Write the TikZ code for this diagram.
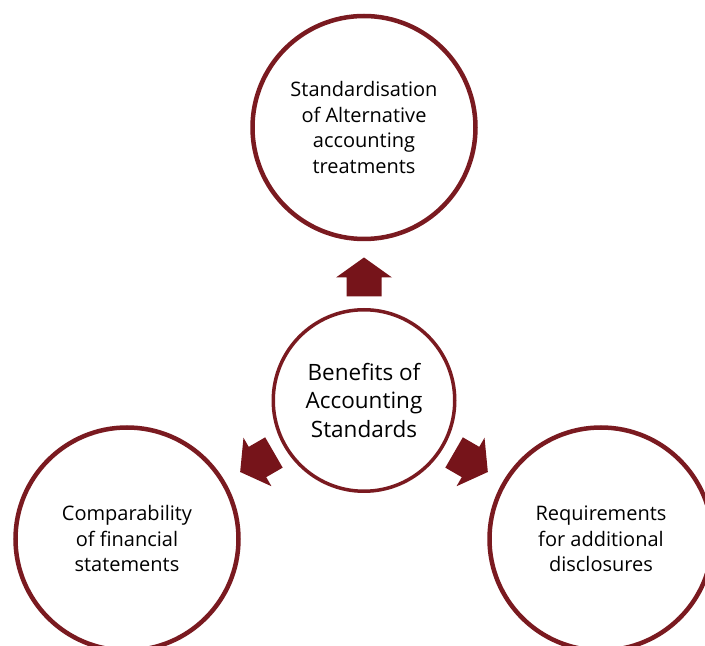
\documentclass[tikz,border=0pt]{standalone}
\usepackage{fontspec}
\setmainfont{Open Sans}
\usepackage{xcolor}
\usepackage{tikz}
\usetikzlibrary{calc}
\definecolor{wine}{RGB}{122,26,32}
\definecolor{arrowwine}{RGB}{118,20,26}
\tikzset{
bigcirc/.style={circle,draw=wine,line width=4.5pt,minimum size=223pt,inner sep=0pt,align=center,font=\fontsize{20}{25.5}\selectfont},
hubcirc/.style={circle,draw=wine,line width=3.5pt,minimum size=181.5pt,inner sep=0pt,align=center,font=\fontsize{22.5}{28.5}\selectfont},
blockarrow/.pic={\fill[arrowwine](0,-17.5)--(19,-17.5)--(19,-28)--(39,0)--(19,28)--(19,17.5)--(0,17.5)--cycle;}
}
\begin{document}
\begin{tikzpicture}[x=1pt,y=1pt]
\useasboundingbox(0,0)rectangle(705,646);
\node[hubcirc](hub)at(364,245.5){Benefits of\\Accounting\\Standards};
\node[bigcirc](top)at(364,518.5){Standardisation\\of Alternative\\accounting\\treatments};
\node[bigcirc](left)at(127,107){Comparability\\of financial\\statements};
\node[bigcirc](right)at(601,107){Requirements\\for additional\\disclosures};
\path($(hub.center)+(90:104)$)pic[rotate=90]{blockarrow};
\path($(hub.center)+(210:104)$)pic[rotate=210]{blockarrow};
\path($(hub.center)+(330:104)$)pic[rotate=330]{blockarrow};
\end{tikzpicture}
\end{document}
